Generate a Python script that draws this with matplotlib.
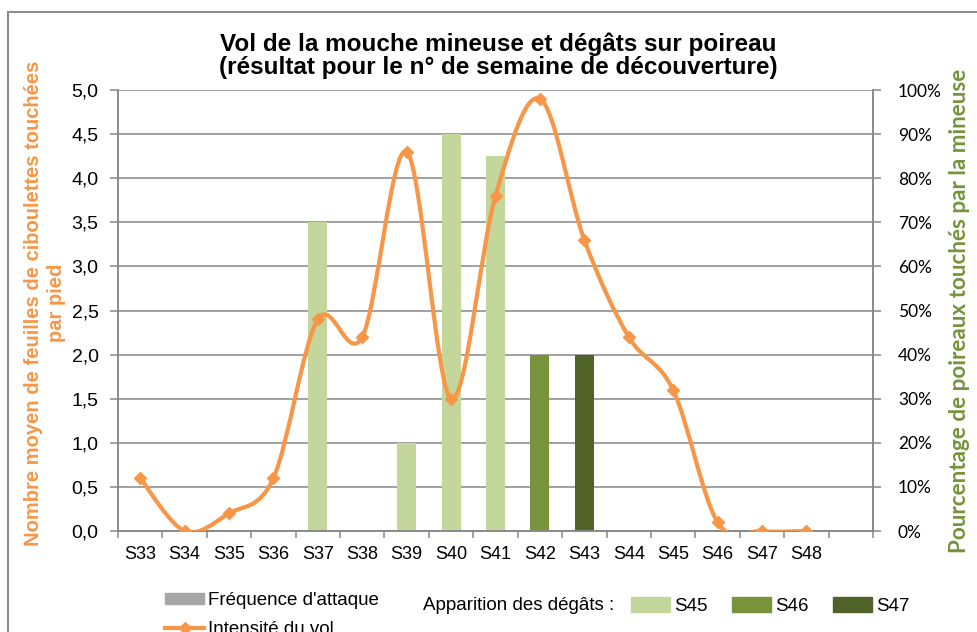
import matplotlib
matplotlib.use("Agg")
import matplotlib.pyplot as plt
from matplotlib.path import Path
from matplotlib.patches import PathPatch, Patch, Rectangle
from matplotlib.lines import Line2D
from matplotlib.ticker import FuncFormatter, PercentFormatter, MultipleLocator, FixedLocator

# data
weeks = ["S33", "S34", "S35", "S36", "S37", "S38", "S39", "S40",
         "S41", "S42", "S43", "S44", "S45", "S46", "S47", "S48", ""]
flight = [0.6, 0.0, 0.2, 0.6, 2.4, 2.2, 4.3, 1.5,
          3.8, 4.9, 3.3, 2.2, 1.6, 0.1, 0.0, 0.0]
attack_pct = [0, 0, 0, 0, 70, 0, 20, 90, 85, 40, 40, 0, 0, 0, 0, 0, 0]
damage_week = ["", "", "", "", "S45", "", "S45", "S45", "S45", "S46", "S47",
               "", "", "", "", "", ""]
damage_labels = ["S45", "S46", "S47"]

ORANGE = "#F79646"
GREEN = {"S45": "#C3D69B", "S46": "#77933C", "S47": "#4F6228"}
GRID = "#878787"

plt.rcParams["font.family"] = ["Liberation Sans", "DejaVu Sans"]

fig = plt.figure(figsize=(9.77, 6.32), dpi=100)
W, H = 977, 632
ax = fig.add_axes([118 / W, 1 - 531 / H, (873 - 118) / W, (531 - 90) / H])
ax2 = ax.twinx()
ax.set_zorder(ax2.get_zorder() + 1)
ax.patch.set_visible(False)

n = len(weeks)
xs = list(range(n))

# bars (right axis)
for i, (v, wk) in enumerate(zip(attack_pct, damage_week)):
    if v > 0:
        ax2.bar(i, v, width=0.43, color=GREEN[wk], zorder=2)
ax2.set_ylim(0, 100)
ax2.yaxis.set_major_locator(MultipleLocator(10))
ax2.yaxis.set_major_formatter(PercentFormatter(xmax=100, decimals=0))
ax2.grid(axis="y", color=GRID, lw=1.1)
ax2.set_axisbelow(True)

# smoothed line (Excel style bezier) on left axis
px = xs[:len(flight)]
py = flight
verts = [(px[0], py[0])]
codes = [Path.MOVETO]
m = len(px)
for i in range(m - 1):
    x0, y0 = (px[i - 1], py[i - 1]) if i > 0 else (px[i], py[i])
    x1, y1 = px[i], py[i]
    x2, y2 = px[i + 1], py[i + 1]
    x3, y3 = (px[i + 2], py[i + 2]) if i + 2 < m else (x2, y2)
    verts += [(x1 + (x2 - x0) / 6, y1 + (y2 - y0) / 6),
              (x2 - (x3 - x1) / 6, y2 - (y3 - y1) / 6),
              (x2, y2)]
    codes += [Path.CURVE4] * 3
ax.add_patch(PathPatch(Path(verts, codes), fill=False, edgecolor=ORANGE,
                       lw=3, capstyle="round", joinstyle="round", zorder=3))
ax.plot(px, py, linestyle="none", marker="D", markersize=6, color=ORANGE, zorder=4)

ax.set_xlim(-0.5, n - 0.5)
ax.set_ylim(0, 5)
ax.yaxis.set_major_locator(MultipleLocator(0.5))
ax.yaxis.set_major_formatter(FuncFormatter(lambda v, p: f"{v:.1f}".replace(".", ",")))
ax.set_xticks(xs)
ax.set_xticklabels(weeks)
ax.xaxis.set_minor_locator(FixedLocator([i - 0.5 for i in range(n + 1)]))

for a in (ax, ax2):
    a.spines["top"].set_visible(False)
    for s in ("left", "right", "bottom"):
        a.spines[s].set_color(GRID)
        a.spines[s].set_linewidth(1.1)

ax.tick_params(axis="x", which="major", length=0, pad=11, labelsize=13)
ax.tick_params(axis="x", which="minor", length=5, color=GRID, width=1.1)
ax.tick_params(axis="y", length=6, color=GRID, width=1.1, pad=8, labelsize=14)
ax2.tick_params(axis="y", length=6, color=GRID, width=1.1, pad=12, labelsize=12.5)
for t in ax2.get_yticklabels():
    t.set_fontfamily("Lato")

# titles and axis labels
fig.text(498 / W, 1 - 56 / H, "Vol de la mouche mineuse et dégâts sur poireau\n"
         "(résultat pour le n° de semaine de découverture)",
         ha="center", va="center", fontsize=17.5, fontweight="bold", linespacing=1.0)
fig.text(45 / W, 1 - 303 / H, "Nombre moyen de feuilles de ciboulettes touchées\npar pied",
         rotation=90, ha="center", va="center", multialignment="center",
         fontsize=14.5, fontweight="bold", color=ORANGE, linespacing=1.3)
fig.text(960 / W, 1 - 311 / H, "Pourcentage de poireaux touchés par la mineuse",
         rotation=90, ha="center", va="center", fontsize=16.2, fontweight="bold",
         color="#77933C", family="Lato")

# legends
h1 = [Patch(color="#A6A6A6"),
      Line2D([], [], color=ORANGE, lw=3, marker="D", markersize=6)]
fig.legend(h1, ["Fréquence d'attaque", "Intensité du vol"], loc="center left",
           bbox_to_anchor=(165 / W, 1 - 615 / H), frameon=False, fontsize=13.5,
           borderpad=0, borderaxespad=0, handlelength=2.1, handleheight=0.5,
           handletextpad=0.2, labelspacing=0.6)
fig.text(423 / W, 1 - 606 / H, "Apparition des dégâts :", ha="left", va="center", fontsize=13.5)
h2 = [Patch(facecolor=GREEN[k], edgecolor=GREEN[k]) for k in damage_labels]
fig.legend(h2, damage_labels, loc="center left", bbox_to_anchor=(631 / W, 1 - 606 / H),
           ncol=3, frameon=False, fontsize=13.5, borderpad=0, borderaxespad=0,
           handlelength=2.1, handleheight=0.8, handletextpad=0.2, columnspacing=1.3)

# chart border
fig.add_artist(Rectangle((7.5 / W, -0.1), 1.2, 1.1 - 12 / H, transform=fig.transFigure,
                         fill=False, edgecolor="#8C8C8C", lw=1.5))

fig.savefig("out.png", dpi=100)
